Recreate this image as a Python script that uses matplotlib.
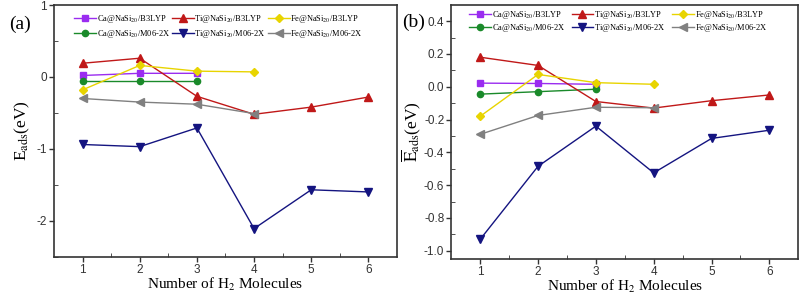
import matplotlib.pyplot as plt

plt.rcParams['font.family'] = ['Liberation Serif', 'DejaVu Serif']
plt.rcParams['mathtext.fontset'] = 'stix'
plt.rcParams['axes.unicode_minus'] = False

x_ca = [1, 2, 3]
x_ti = [1, 2, 3, 4, 5, 6]
x_fe = [1, 2, 3, 4]

# panel (a): E_ads
a_ca_b3 = [0.02, 0.05, 0.05]
a_ti_b3 = [0.19, 0.26, -0.27, -0.52, -0.42, -0.28]
a_fe_b3 = [-0.18, 0.16, 0.08, 0.07]
a_ca_m06 = [-0.05, -0.05, -0.05]
a_ti_m06 = [-0.94, -0.97, -0.71, -2.11, -1.57, -1.60]
a_fe_m06 = [-0.30, -0.35, -0.38, -0.51]

# panel (b): mean E_ads
b_ca_b3 = [0.022, 0.02, 0.015]
b_ti_b3 = [0.18, 0.13, -0.09, -0.13, -0.085, -0.05]
b_fe_b3 = [-0.18, 0.075, 0.025, 0.015]
b_ca_m06 = [-0.045, -0.03, -0.015]
b_ti_m06 = [-0.93, -0.485, -0.24, -0.525, -0.315, -0.265]
b_fe_m06 = [-0.29, -0.175, -0.125, -0.128]

labels = ['Ca@NaSi$_{20}$/B3LYP', 'Ca@NaSi$_{20}$/M06-2X',
          'Ti@NaSi$_{20}$/B3LYP', 'Ti@NaSi$_{20}$/M06-2X',
          'Fe@NaSi$_{20}$/B3LYP', 'Fe@NaSi$_{20}$/M06-2X']
colors = ['#9a2cf0', '#1a8a2a', '#c01818', '#141480', '#e8d400', '#808080']
markers = ['s', 'o', '^', 'v', 'D', '<']
msizes = [4, 4.5, 5.5, 5.5, 4.5, 5.5]


def draw(ax, series, xs):
    for x, y, lab, c, m, ms in zip(xs, series, labels, colors, markers, msizes):
        ax.plot(x, y, color=c, marker=m, markersize=ms, linewidth=1.0, label=lab)
    ax.set_xlim(0.5, 6.5)
    ax.set_xticks([1, 2, 3, 4, 5, 6])
    ax.set_xticks([1.5, 2.5, 3.5, 4.5, 5.5], minor=True)
    for s in ax.spines.values():
        s.set_linewidth(1.2)
        s.set_color('#333333')


def style_ticks(ax):
    ax.tick_params(which='major', direction='out', length=3.5, width=1, pad=1.5,
                   labelsize=8.5, colors='#333333')
    ax.tick_params(which='minor', direction='in', length=3, colors='#333333')
    for lab in ax.get_xticklabels() + ax.get_yticklabels():
        lab.set_fontfamily('Liberation Sans')


fig = plt.figure(figsize=(8.08, 2.95), dpi=100)
ax1 = fig.add_axes([0.0668, 0.130, 0.4245, 0.853])
ax2 = fig.add_axes([0.5585, 0.122, 0.4295, 0.862])

xs = [x_ca, x_ca, x_ti, x_ti, x_fe, x_fe]
draw(ax1, [a_ca_b3, a_ca_m06, a_ti_b3, a_ti_m06, a_fe_b3, a_fe_m06], xs)
ax1.set_ylim(-2.5, 1)
ax1.set_yticks([-2, -1, 0, 1])
ax1.set_yticks([-2.5, -1.5, -0.5, 0.5], minor=True)
style_ticks(ax1)
ax1.set_ylabel('E$_{\\mathrm{ads}}$(eV)', fontsize=12.5, labelpad=3)
ax1.set_xlabel('Number of H$_2$ Molecules', fontsize=11, labelpad=0)
ax1.legend(ncol=3, loc='upper left', bbox_to_anchor=(0.042, 0.99), frameon=False,
           fontsize=6.0, handlelength=2.6, handletextpad=0.1, columnspacing=0.25,
           labelspacing=0.35, borderpad=0.2)

draw(ax2, [b_ca_b3, b_ca_m06, b_ti_b3, b_ti_m06, b_fe_b3, b_fe_m06], xs)
ax2.set_ylim(-1.05, 0.5)
ax2.set_yticks([-1.0, -0.8, -0.6, -0.4, -0.2, 0.0, 0.2, 0.4])
ax2.set_yticklabels(['-1.0', '-0.8', '-0.6', '-0.4', '-0.2', '0.0', '0.2', '0.4'])
ax2.set_yticks([-0.9, -0.7, -0.5, -0.3, -0.1, 0.1, 0.3], minor=True)
style_ticks(ax2)
ax2.set_ylabel('$\\overline{\\mathrm{E}}_{\\mathrm{ads}}$(eV)', fontsize=12.5, labelpad=1)
ax2.set_xlabel('Number of H$_2$ Molecules', fontsize=11, labelpad=0)
ax2.legend(ncol=3, loc='upper left', bbox_to_anchor=(0.035, 1.005), frameon=False,
           fontsize=6.0, handlelength=2.6, handletextpad=0.1, columnspacing=0.8,
           labelspacing=0.13, borderpad=0.2)

fig.text(0.025, 0.918, '(a)', fontsize=14, ha='center', va='center')
fig.text(0.512, 0.925, '(b)', fontsize=14, ha='center', va='center')

fig.savefig('out.png', dpi=100)
